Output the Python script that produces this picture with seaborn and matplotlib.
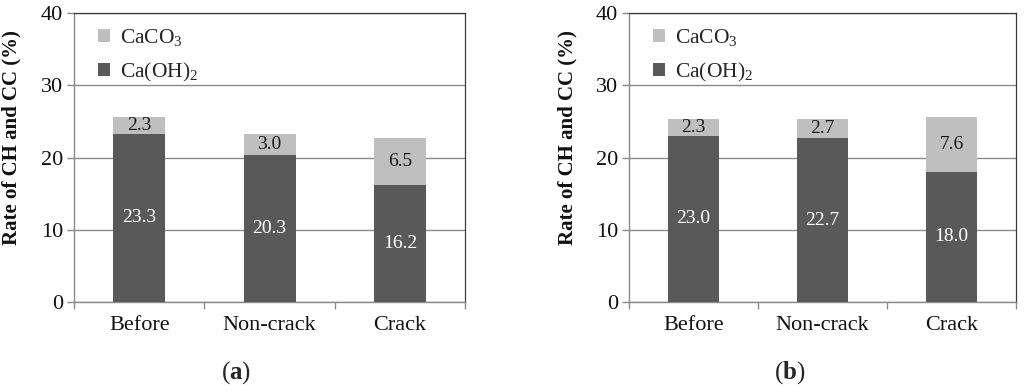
import matplotlib
matplotlib.use("Agg")
import matplotlib.pyplot as plt
import seaborn as sns
import pandas as pd
from matplotlib.patches import Patch
from matplotlib.ticker import FixedLocator

categories = ["Before", "Non-crack", "Crack"]
ch_a = [23.3, 20.3, 16.2]
cc_a = [2.3, 3.0, 6.5]
ch_b = [23.0, 22.7, 18.0]
cc_b = [2.3, 2.7, 7.6]
panel_labels = ["a", "b"]
yticks = [0, 10, 20, 30, 40]

sns.set_theme(style="white")
plt.rcParams["font.family"] = ["Liberation Serif", "DejaVu Serif"]
plt.rcParams["mathtext.fontset"] = "custom"
plt.rcParams["mathtext.rm"] = "Liberation Serif"
plt.rcParams["mathtext.bf"] = "Liberation Serif:bold"
plt.rcParams["mathtext.it"] = "Liberation Serif:italic"
plt.rcParams["mathtext.default"] = "rm"

DARK = "#595959"
LIGHT = "#bfbfbf"
GRID = "#8a8a8a"

fig = plt.figure(figsize=(10.24, 3.92), dpi=100)
axes = [fig.add_axes([0.0723, 0.2296, 0.382, 0.737]),
        fig.add_axes([0.6143, 0.2296, 0.378, 0.737])]

for ax, ch, cc, lab in zip(axes, [ch_a, ch_b], [cc_a, cc_b], panel_labels):
    df = pd.DataFrame({"cat": categories, "ch": ch, "cc": cc})
    df["total"] = df["ch"] + df["cc"]
    sns.barplot(data=df, x="cat", y="total", color=LIGHT, width=0.4, ax=ax,
                saturation=1, edgecolor="none", zorder=3)
    sns.barplot(data=df, x="cat", y="ch", color=DARK, width=0.4, ax=ax,
                saturation=1, edgecolor="none", zorder=3)
    for i, row in df.iterrows():
        ax.text(i, row["ch"] / 2, f"{row['ch']:.1f}", ha="center", va="center",
                color="white", fontsize=14, zorder=4)
        ax.text(i, row["ch"] + row["cc"] / 2, f"{row['cc']:.1f}", ha="center",
                va="center", color="#1a1a1a", fontsize=14, zorder=4)
    ax.set_ylim(0, 40)
    ax.set_xlim(-0.5, 2.5)
    ax.set_yticks(yticks)
    ax.yaxis.grid(True, color=GRID, linewidth=1.0, zorder=0)
    ax.set_axisbelow(True)
    ax.set_xlabel("")
    ax.set_ylabel("Rate of CH and CC (%)", fontsize=15, fontweight="bold",
                  color="#111111")
    ax.yaxis.set_label_coords(-0.134, 0.57)
    ax.tick_params(axis="y", direction="out", length=5, width=1, color=GRID,
                   left=True, labelsize=16, pad=3, labelcolor="#111111")
    ax.tick_params(axis="x", which="major", length=0, labelsize=16, pad=10,
                   labelcolor="#111111")
    ax.xaxis.set_minor_locator(FixedLocator([-0.5, 0.5, 1.5, 2.5]))
    ax.tick_params(axis="x", which="minor", direction="out", length=5, width=1,
                   color=GRID, bottom=True)
    for s in ["left", "bottom"]:
        ax.spines[s].set_color(GRID)
        ax.spines[s].set_linewidth(1.0)
    for s in ["top", "right"]:
        ax.spines[s].set_color("#3a3a3a")
        ax.spines[s].set_linewidth(0.9)
    handles = [Patch(facecolor=LIGHT, edgecolor="none", label="CaCO$_3$"),
               Patch(facecolor=DARK, edgecolor="none", label="Ca(OH)$_2$")]
    ax.legend(handles=handles, loc="upper left", bbox_to_anchor=(0.025, 1.0),
              frameon=False, fontsize=15.5, handlelength=0.55, handleheight=0.55,
              handletextpad=0.5, labelspacing=0.6, borderaxespad=0.25)
    bbox = ax.get_position()
    fig.text(bbox.x0 + bbox.width * 0.415, 0.05,
             f"(${{\\mathbf{{{lab}}}}}$)", ha="center", va="center", fontsize=18)

fig.savefig("out.png", dpi=100)
